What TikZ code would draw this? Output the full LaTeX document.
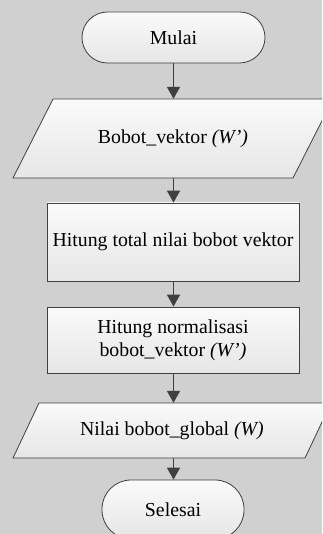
\documentclass[tikz,border=0pt]{standalone}
\usepackage{fontspec}
\setmainfont{Liberation Serif}
\usetikzlibrary{arrows.meta}
\definecolor{bggray}{HTML}{D0D0D0}
\definecolor{edge}{HTML}{404040}
\definecolor{boxtop}{HTML}{FAFAFA}
\definecolor{boxbot}{HTML}{E6E6E6}
\tikzset{
  boxfill/.style={top color=boxtop, bottom color=boxbot, draw=edge, line width=0.8pt},
  txt/.style={font=\fontsize{19.8}{23}\selectfont, text=black, align=center, inner sep=0pt},
  terminal/.style={boxfill, txt, rounded corners=#1},
  process/.style={boxfill, txt},
  flow/.style={draw=edge, line width=1.8pt, -{Triangle[length=12pt,width=13pt]}}
}
\begin{document}
\begin{tikzpicture}[x=1pt,y=-1pt]
  \useasboundingbox (0,0) rectangle (322,534);
  \clip (0,0) rectangle (322,534);
  \fill[bggray] (0,0) rectangle (322,534);

  % start
  \node[terminal=25.5pt, minimum width=183pt, minimum height=51pt] (start) at (173.5,37.5) {Mulai};

  % input: weight vector
  \path[boxfill] (53,99) -- (333,99) -- (293,178) -- (13,178) -- cycle;
  \node[txt, minimum height=79pt] (vec) at (173,138.5) {Bobot\_vektor \textit{(W’)}};

  % sum of vector weights
  \node[process, minimum width=252pt, minimum height=78pt] (sum) at (173,242) {Hitung total nilai bobot vektor};

  % normalisation
  \node[process, minimum width=252pt, minimum height=66pt] (norm) at (173,340) {Hitung normalisasi\\bobot\_vektor \textit{(W’)}};

  % output: global weight
  \path[boxfill] (39,403) -- (331,403) -- (305,458) -- (13,458) -- cycle;
  \node[txt, minimum height=55pt] (glob) at (172,430.5) {Nilai bobot\_global \textit{(W)}};

  % end
  \node[terminal=29pt, minimum width=142pt, minimum height=59pt] (stop) at (173,509.5) {Selesai};

  \draw[flow] (start.south) -- (vec.north -| start.south);
  \draw[flow] (vec.south -| start.south) -- (sum.north -| start.south);
  \draw[flow] (sum.south -| start.south) -- (norm.north -| start.south);
  \draw[flow] (norm.south -| start.south) -- (glob.north -| start.south);
  \draw[flow] (glob.south -| start.south) -- (stop.north -| start.south);
\end{tikzpicture}
\end{document}
